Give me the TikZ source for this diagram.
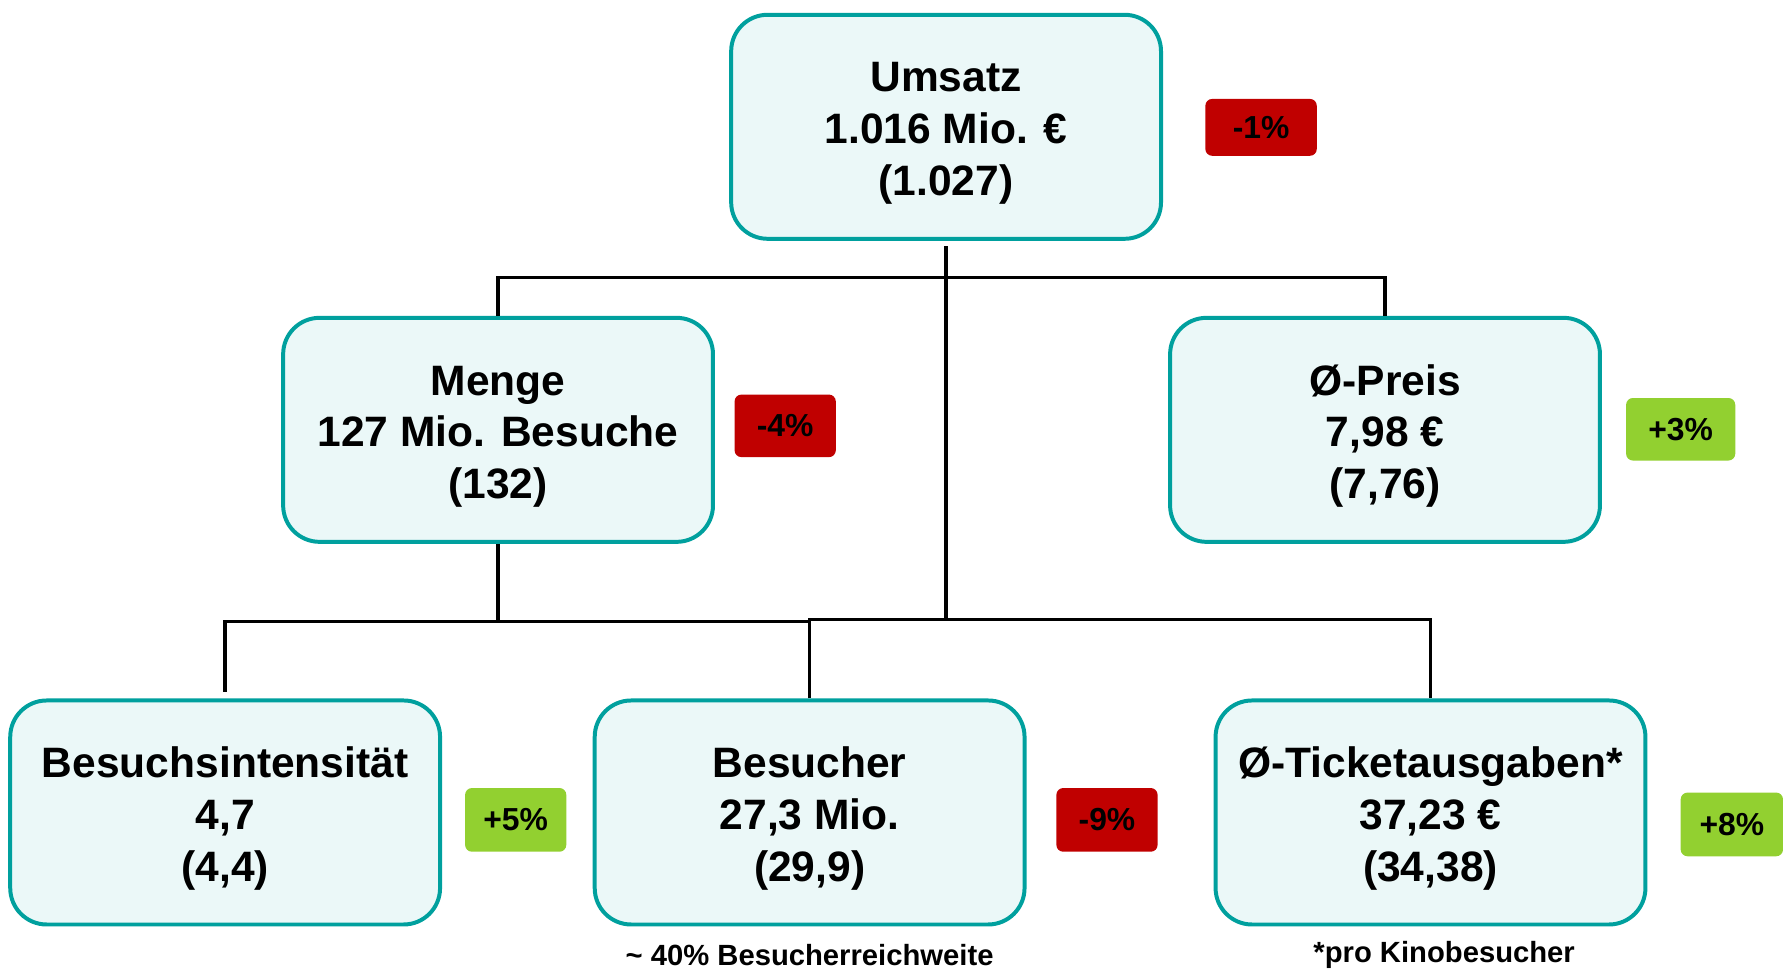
\documentclass[tikz,border=0pt]{standalone}
\usepackage{fontspec}
\setmainfont{Liberation Sans}
\definecolor{boxfill}{RGB}{235,248,248}
\definecolor{boxline}{RGB}{0,160,158}
\definecolor{badred}{RGB}{192,0,0}
\definecolor{badgreen}{RGB}{146,208,48}
\newcommand\topstrut{\rule{0pt}{37.5pt}}
\begin{document}
\begin{tikzpicture}[x=1pt,y=-1pt,
  box/.style={draw=boxline,fill=boxfill,line width=3.5pt,rounded corners=32pt,
    minimum width=378pt,minimum height=197pt,align=center,inner sep=0pt,
    font=\fontsize{37.4}{45.5}\selectfont\bfseries},
  badge/.style={rounded corners=6pt,minimum width=89pt,minimum height=55pt,inner sep=0pt,
    font=\fontsize{28}{30}\selectfont\bfseries},
  conn/.style={line width=3pt},
  note/.style={inner sep=0pt,font=\fontsize{25.7}{28}\selectfont\bfseries}]
\useasboundingbox (0,0) rectangle (1568,852);
% boxes
\node[box] (umsatz) at (832,111.5) {\topstrut Umsatz\\1.016 Mio. €\\(1.027)};
\node[box] (menge) at (438,378) {\topstrut Menge\\127 Mio. Besuche\\(132)};
\node[box] (preis) at (1218,378) {\topstrut Ø-Preis\\7,98 €\\(7,76)};
\node[box] (intens) at (198,714.5) {\topstrut Besuchsintensität\\4,7\\(4,4)};
\node[box] (besucher) at (712,714.5) {\topstrut Besucher\\27,3 Mio.\\(29,9)};
\node[box] (ticket) at (1258,714.5) {\topstrut Ø-Ticketausgaben*\\37,23 €\\(34,38)};
% badges
\node[badge,fill=badred,minimum width=98pt,minimum height=50pt] (b1) at (1109,112) {-1\%};
\node[badge,fill=badred] (b2) at (690.5,374.5) {-4\%};
\node[badge,fill=badgreen,minimum width=96pt] (b3) at (1478,377.5) {+3\%};
\node[badge,fill=badgreen,minimum height=56pt] (b4) at (453.5,721) {+5\%};
\node[badge,fill=badred,minimum height=56pt] (b5) at (973.5,721) {-9\%};
\node[badge,fill=badgreen,minimum width=90pt,minimum height=56pt] (b6) at (1523,725) {+8\%};
% notes
\node[note] (n1) at (712,840) {\char`\~{} 40\% Besucherreichweite};
\node[note] (n2) at (1270,840) {*pro Kinobesucher};
% connectors
\coordinate (jtop) at (832,244);
\coordinate (jbot) at (832,545);
\coordinate (jmid) at (438,546.5);
\draw[conn,shorten <=5pt] (umsatz.south) -- (jbot);
\draw[conn] (menge.north) |- (jtop) -| (preis.north);
\draw[conn] (besucher.north) |- (jbot) -| (ticket.north);
\draw[conn] (menge.south) -- (jmid);
\draw[conn,shorten <=6pt] (intens.north) |- (jmid) -- (besucher.north |- jmid);
\end{tikzpicture}
\end{document}
